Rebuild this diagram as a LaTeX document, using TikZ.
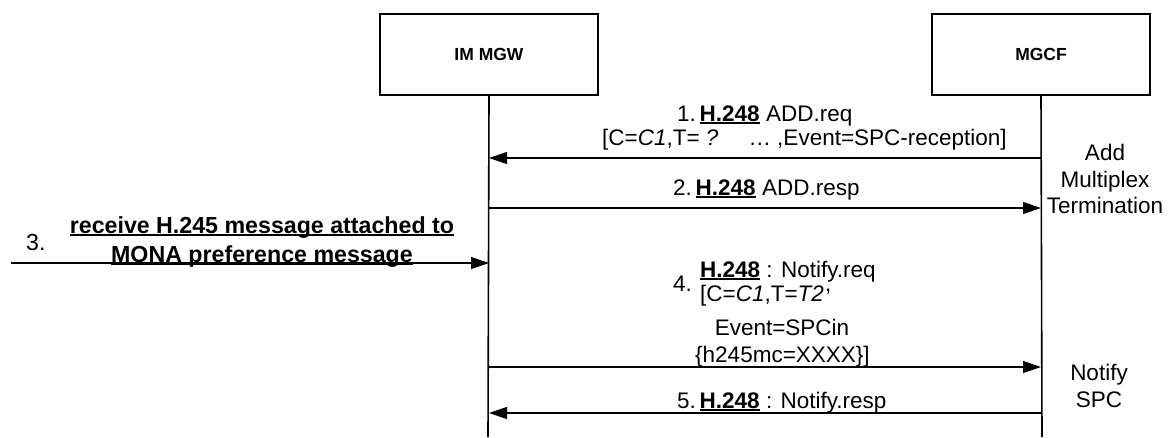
\documentclass[tikz,border=0pt]{standalone}
\usepackage{fontspec}
\setmainfont{Liberation Sans}
\usetikzlibrary{arrows.meta}
\newcommand\myul[1]{\setbox0\hbox{#1}\rlap{\rule[-3pt]{\wd0}{1.6pt}}\box0\relax}
\newcommand\hul[1]{\myul{\textbf{#1}}}
\tikzset{
  entity/.style={draw, line width=1.6pt, minimum width=218pt, minimum height=81pt, font=\fontsize{17.5}{20}\selectfont\bfseries},
  life/.style={line width=1.6pt},
  msg/.style={line width=1.2pt, -{Triangle[length=18pt,width=12pt]}},
  lbl/.style={inner sep=0pt, font=\fontsize{22.5}{26.5}\selectfont},
  biglbl/.style={inner sep=0pt, font=\fontsize{23.2}{28}\selectfont},
}
\begin{document}
\begin{tikzpicture}[x=1pt,y=-1pt]
\useasboundingbox (0,0) rectangle (1168,437);
% entities
\node[entity] (mgw) at (489,54.5) {IM MGW};
\node[entity] (mgcf) at (1041,54.5) {MGCF};
\coordinate (mgwend) at (488,437);
\coordinate (mgcfend) at (1042,437);
\draw[life] (mgw.south) -- (mgwend);
\draw[life] (mgcf.south) -- (mgcfend);
% endpoints
\coordinate (ext3) at (11,263);
% messages
\draw[msg] (mgcf.south |- 0,158) -- (mgw.south |- 0,158);
\draw[msg] (mgw.south |- 0,208) -- (mgcf.south |- 0,208);
\draw[msg] (ext3) -- (mgw.south |- ext3);
\draw[msg] (mgw.south |- 0,367) -- (mgcf.south |- 0,367);
\draw[msg] (mgcf.south |- 0,413) -- (mgw.south |- 0,413);
% labels message 1
\node[lbl, anchor=base west] (m1a) at (677,121) {1.\,\hul{H.248} ADD.req};
\node[lbl, anchor=base west] (m1b) at (602,145) {[C=\textit{C1},T= \textit{?}\hspace{30pt}\ldots\ ,Event=SPC-reception]};
% message 2
\node[lbl, anchor=base west] (m2) at (673,195) {2.\,\hul{H.248} ADD.resp};
% message 3
\node[biglbl, anchor=base west] (m3n) at (26,250) {3.};
\node[biglbl, anchor=base] (m3a) at (262,233) {\hul{receive H.245 message attached to}};
\node[biglbl, anchor=base] (m3b) at (262,262) {\hul{MONA preference message}};
% message 4
\node[lbl, anchor=base west] (m4n) at (673,291) {4.};
\node[lbl, anchor=base west] (m4a) at (700,277) {\hul{H.248} : Notify.req};
\node[lbl, anchor=base west] (m4b) at (700,301) {[C=\textit{C1},T=\textit{T2}\hspace{1pt}\smash{\raisebox{10pt}{,}}};
\node[lbl, anchor=base] (m4d) at (782,335) {Event=SPCin};
\node[lbl, anchor=base west] (m4e) at (695,362) {\{h245mc=XXXX\}]};
% message 5
\node[lbl, anchor=base west] (m5) at (677,408) {5.\,\hul{H.248} : Notify.resp};
% notes
\node[lbl, anchor=base] (n1a) at (1105,160) {Add};
\node[lbl, anchor=base] (n1b) at (1105,187) {Multiplex};
\node[lbl, anchor=base] (n1c) at (1105,213) {Termination};
\node[lbl, anchor=base] (n2a) at (1099,380) {Notify};
\node[lbl, anchor=base] (n2b) at (1099,407) {SPC};
\end{tikzpicture}
\end{document}
